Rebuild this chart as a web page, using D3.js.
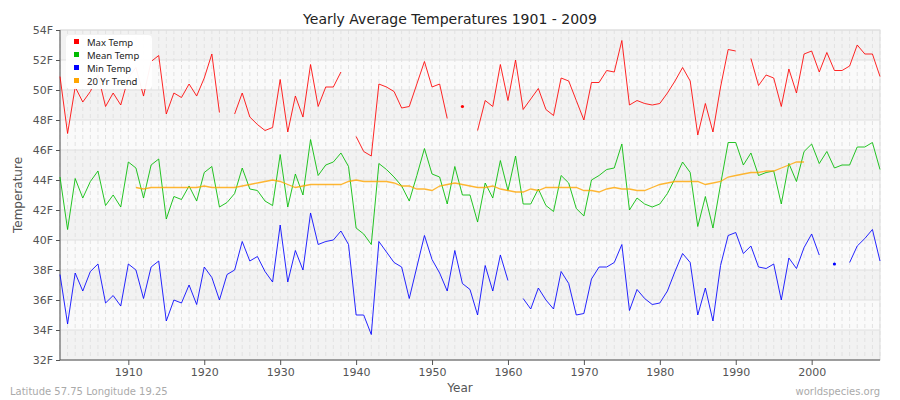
<!DOCTYPE html>
<html><head><meta charset="utf-8">
<script src="https://cdn.jsdelivr.net/npm/d3@7"></script>
<style>body{margin:0;background:#fff;font-family:"DejaVu Sans",sans-serif;}</style>
</head><body><div id="chart"></div>
<script>
// data, 1901..2009 (null = missing)
const years = d3.range(1901, 2010);
const maxTemp = [50.9,47.1,50.2,49.2,49.9,51.0,48.9,49.8,49.0,50.8,51.5,49.6,51.9,52.3,48.4,49.8,49.5,50.4,49.6,50.8,52.4,48.5,null,48.4,49.8,48.2,47.7,47.3,47.5,50.7,47.2,49.6,48.2,51.7,48.9,50.2,50.2,51.2,null,46.9,45.9,45.6,50.4,50.2,49.9,48.8,48.9,50.4,51.9,50.2,50.4,48.1,null,48.9,null,47.3,49.3,48.9,51.7,49.3,52.0,48.7,49.4,50.1,48.7,48.3,50.8,50.6,49.3,48.0,50.5,50.5,51.3,51.2,53.3,49.0,49.3,49.1,49.0,49.1,49.8,50.6,51.5,50.6,47.0,49.1,47.2,50.2,52.7,52.6,null,52.1,50.3,51.0,50.8,48.9,51.4,49.8,52.4,52.6,51.2,52.5,51.3,51.3,51.6,53.0,52.4,52.4,50.9];
const meanTemp = [44.2,40.7,44.1,42.8,43.9,44.6,42.3,43.0,42.2,45.2,44.8,42.8,45.0,45.4,41.4,42.9,42.7,43.6,42.6,44.5,44.9,42.2,42.5,43.1,44.8,43.4,43.3,42.6,42.3,45.7,42.2,44.4,43.0,46.7,44.3,45.0,45.2,45.8,44.9,40.8,40.4,39.7,45.1,44.7,44.2,43.6,42.6,44.3,46.1,44.4,44.2,42.4,44.9,43.0,43.0,41.2,43.8,42.8,45.3,43.3,45.6,42.4,42.4,43.4,42.3,41.9,44.3,43.8,42.1,41.6,44.0,44.3,44.7,44.8,46.4,42.0,42.8,42.4,42.2,42.4,43.1,44.1,45.2,44.5,40.9,42.9,40.8,43.7,46.5,46.5,45.0,45.8,44.3,44.5,44.6,42.4,45.1,43.9,45.9,46.4,45.1,45.9,44.8,45.0,45.0,46.2,46.2,46.5,44.7];
const minTemp = [37.7,34.4,37.8,36.6,37.9,38.4,35.8,36.3,35.6,38.4,38.0,36.1,38.2,38.6,34.6,36.0,35.8,37.0,35.7,38.2,37.5,36.0,37.7,38.0,39.9,38.6,38.9,37.9,37.2,41.0,37.2,39.3,38.0,41.8,39.7,39.9,40.0,40.6,39.7,35.0,35.0,33.7,39.9,39.2,38.5,38.2,36.1,38.2,40.3,38.7,37.8,36.6,39.3,37.1,36.7,35.0,38.3,36.6,39.0,37.3,null,36.1,35.4,36.8,36.0,35.4,37.9,37.1,35.0,35.1,37.4,38.2,38.2,38.5,39.7,35.3,36.7,36.1,35.7,35.8,36.6,37.9,39.1,38.5,35.0,36.8,34.6,38.3,40.3,40.5,39.1,39.6,38.2,38.1,38.4,36.0,38.8,38.1,39.5,40.4,39.0,null,38.4,null,38.5,39.6,40.1,40.7,38.6];
const trendTemp = [null,null,null,null,null,null,null,null,null,null,43.5,43.4,43.5,43.5,43.5,43.5,43.5,43.5,43.5,43.6,43.5,43.5,43.5,43.5,43.6,43.7,43.8,43.9,44.0,43.9,43.7,43.5,43.6,43.7,43.7,43.7,43.7,43.7,43.9,44.0,43.9,43.9,43.9,43.9,43.8,43.6,43.6,43.4,43.4,43.3,43.6,43.7,43.8,43.7,43.6,43.5,43.5,43.6,43.4,43.3,43.2,43.2,43.4,43.3,43.5,43.5,43.5,43.5,43.5,43.3,43.3,43.2,43.4,43.5,43.4,43.4,43.3,43.3,43.5,43.7,43.8,43.9,43.9,43.9,43.9,43.7,43.8,43.9,44.2,44.3,44.4,44.5,44.5,44.6,44.6,44.8,45.0,45.2,45.2,null,null,null,null,null,null,null,null,null,null];
const yTicks = [32,34,36,38,40,42,44,46,48,50,52,54];
const xTicks = [1910,1920,1930,1940,1950,1960,1970,1980,1990,2000];
const seriesNames = ["Max Temp","Mean Temp","Min Temp","20 Yr Trend"];
const seriesColors = ["#ff0000","#00bb00","#0000ff","#ffa500"];

const W = 900, H = 400, L = 60, R = 880, T = 30, B = 360;
const x = d3.scaleLinear().domain([1901, 2009]).range([L, R]);
const y = d3.scaleLinear().domain([32, 54]).range([B, T]);

const svg = d3.select("#chart").append("svg").attr("width", W).attr("height", H);

// alternating bands
svg.append("g").selectAll("rect").data(d3.range(32, 54, 2)).join("rect")
  .attr("x", L).attr("width", R - L)
  .attr("y", d => y(d + 2)).attr("height", d => y(d) - y(d + 2))
  .attr("fill", (d, i) => i % 2 ? "#fafafa" : "#f2f2f2");

// year grid (dashed)
svg.append("g").selectAll("line").data(years).join("line")
  .attr("x1", d => x(d)).attr("x2", d => x(d)).attr("y1", T).attr("y2", B)
  .attr("stroke", "#e2e2e2").attr("stroke-dasharray", "4,3").attr("stroke-width", 1);
// horizontal grid
svg.append("g").selectAll("line").data(yTicks).join("line")
  .attr("x1", L).attr("x2", R).attr("y1", d => y(d)).attr("y2", d => y(d))
  .attr("stroke", "#e0e0e0");
svg.append("rect").attr("x", L).attr("y", T).attr("width", R - L).attr("height", B - T)
  .attr("fill", "none").attr("stroke", "#dddddd");

// axes
const ya = svg.append("g").attr("transform", `translate(${L},0)`)
  .call(d3.axisLeft(y).tickValues(yTicks).tickFormat(d => d + "F").tickSize(4));
const xa = svg.append("g").attr("transform", `translate(0,${B})`)
  .call(d3.axisBottom(x).tickValues(xTicks).tickFormat(d3.format("d")).tickSize(5));
[ya, xa].forEach(a => {
  a.selectAll("path,line").attr("stroke", "#555");
  a.selectAll("text").attr("fill", "#555").style("font-size", "11px").style("font-family", "DejaVu Sans");
});
ya.select(".domain").attr("d", `M-0,${T}V${B}`);
xa.select(".domain").attr("d", `M${L},0H${R}`);

// series
const allSeries = [maxTemp, meanTemp, minTemp, trendTemp];
allSeries.forEach((vals, si) => {
  const pts = years.map((yr, i) => [yr, vals[i]]);
  const line = d3.line().defined(d => d[1] != null).x(d => x(d[0])).y(d => y(d[1]));
  svg.append("path").datum(pts).attr("d", line).attr("fill", "none")
    .attr("stroke", seriesColors[si]).attr("stroke-width", si === 3 ? 1.3 : 1)
    .attr("stroke-opacity", si === 3 ? 0.8 : 0.85);
  // isolated points
  const lone = pts.filter((d, i) => d[1] != null && (i === 0 || pts[i - 1][1] == null) && (i === pts.length - 1 || pts[i + 1][1] == null));
  svg.append("g").selectAll("circle").data(lone).join("circle")
    .attr("cx", d => x(d[0])).attr("cy", d => y(d[1])).attr("r", 1.6).attr("fill", seriesColors[si]);
});

// legend
const lg = svg.append("g").attr("transform", "translate(66,35)");
lg.append("rect").attr("width", 86).attr("height", 54).attr("rx", 4).attr("fill", "#fff").attr("opacity", 0.95);
seriesNames.forEach((n, i) => {
  lg.append("rect").attr("x", 8).attr("y", 4 + i * 13).attr("width", 5).attr("height", 5).attr("fill", seriesColors[i]);
  lg.append("text").attr("x", 21).attr("y", 11 + i * 13).text(n)
    .style("font-size", "9.5px").style("font-family", "Noto Sans").attr("fill", "#222");
});

// titles
svg.append("text").attr("x", W / 2).attr("y", 24).attr("text-anchor", "middle")
  .style("font-size", "14px").attr("fill", "#222").text("Yearly Average Temperatures 1901 - 2009");
svg.append("text").attr("transform", `translate(22,${(T + B) / 2}) rotate(-90)`).attr("text-anchor", "middle")
  .style("font-size", "12px").attr("fill", "#555").text("Temperature");
svg.append("text").attr("x", (L + R) / 2 - 10).attr("y", 392).attr("text-anchor", "middle")
  .style("font-size", "12px").attr("fill", "#555").text("Year");
svg.append("text").attr("x", 10).attr("y", 395).style("font-size", "10px").attr("fill", "#aaa")
  .text("Latitude 57.75 Longitude 19.25");
svg.append("text").attr("x", 880).attr("y", 395).attr("text-anchor", "end").style("font-size", "10px").attr("fill", "#aaa")
  .text("worldspecies.org");
</script></body></html>
